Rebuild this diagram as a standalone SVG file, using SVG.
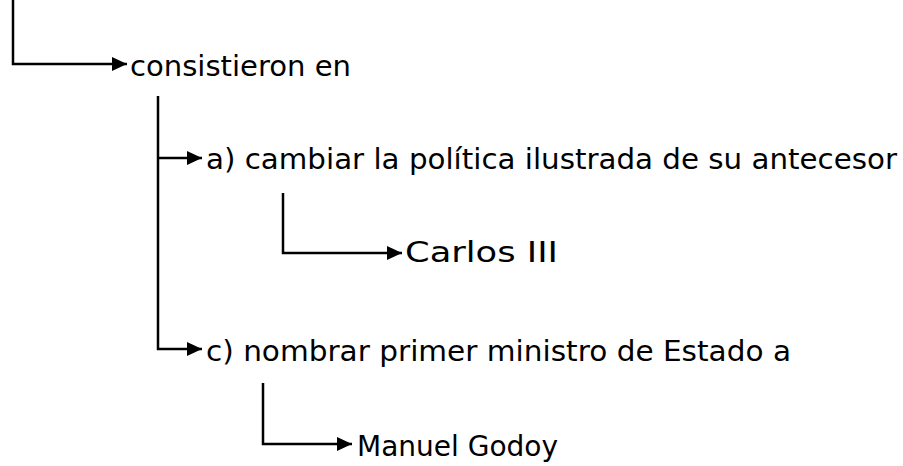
<svg xmlns="http://www.w3.org/2000/svg" width="903" height="466" viewBox="0 0 903 466">
<style>
.c{fill:none;stroke:#000;stroke-width:2.5}
.t{font-family:"Comic Sans MS","DejaVu Sans",sans-serif;font-size:28px;fill:#000}
</style>
<defs>
<marker id="ah" markerUnits="userSpaceOnUse" markerWidth="16" markerHeight="16" refX="15" refY="8" orient="auto" overflow="visible">
<path d="M0,1 L15,8 L0,15 z" fill="#000"/>
</marker>
</defs>
<rect width="903" height="466" fill="#fff"/>
<g id="connectors">
<path class="c" d="M13,0 V64 H127" marker-end="url(#ah)"/>
<path class="c" d="M158,96 V349 H202" marker-end="url(#ah)"/>
<path class="c" d="M158,158 H202" marker-end="url(#ah)"/>
<path class="c" d="M283,193 V253 H402" marker-end="url(#ah)"/>
<path class="c" d="M263,383 V444 H352" marker-end="url(#ah)"/>
</g>
<g id="n1"><text class="t" x="130" y="76" textLength="221" lengthAdjust="spacingAndGlyphs">consistieron en</text></g>
<g id="n2"><text class="t" x="206" y="169" textLength="691" lengthAdjust="spacingAndGlyphs">a) cambiar la política ilustrada de su antecesor</text></g>
<g id="n3"><text class="t" x="405" y="262" textLength="153" lengthAdjust="spacingAndGlyphs">Carlos III</text></g>
<g id="n4"><text class="t" x="206" y="361" textLength="585" lengthAdjust="spacingAndGlyphs">c) nombrar primer ministro de Estado a</text></g>
<g id="n5"><text class="t" x="357" y="456" textLength="201" lengthAdjust="spacingAndGlyphs">Manuel Godoy</text></g>
</svg>
